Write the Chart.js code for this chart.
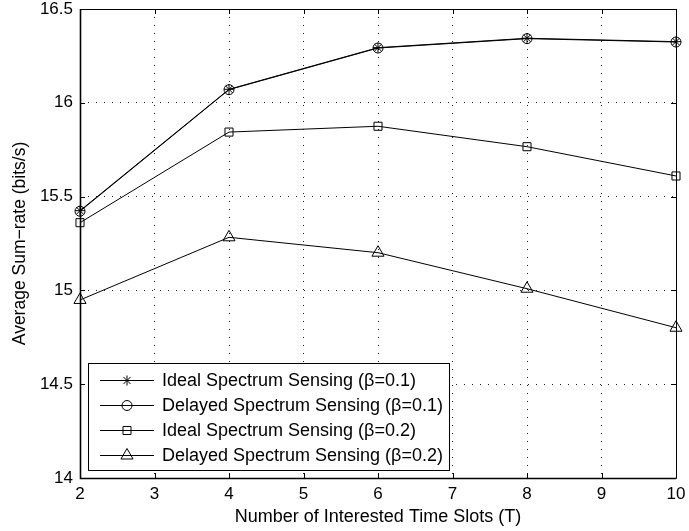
<!DOCTYPE html>
<html>
<head>
<meta charset="utf-8">
<script src="https://cdn.jsdelivr.net/npm/chart.js@4/dist/chart.umd.min.js"></script>
<style>
html,body{margin:0;padding:0;background:#fff;}
#wrap{width:689px;height:531px;}
</style>
</head>
<body>
<div id="wrap"><canvas id="c" width="689" height="531"></canvas></div>
<script>
const slots = [2, 4, 6, 8, 10];
const idealB01 = [15.425, 16.072, 16.294, 16.344, 16.326];
const delayedB01 = [15.422, 16.070, 16.292, 16.342, 16.324];
const idealB02 = [15.361, 15.844, 15.875, 15.766, 15.610];
const delayedB02 = [14.949, 15.283, 15.201, 15.009, 14.801];
const xTicks = [2, 3, 4, 5, 6, 7, 8, 9, 10];
const yTicks = [14, 14.5, 15, 15.5, 16, 16.5];
const seriesNames = ['Ideal Spectrum Sensing (\u03B2=0.1)', 'Delayed Spectrum Sensing (\u03B2=0.1)', 'Ideal Spectrum Sensing (\u03B2=0.2)', 'Delayed Spectrum Sensing (\u03B2=0.2)'];
const xTitle = 'Number of Interested Time Slots (T)';
const yTitle = 'Average Sum\u2212rate (bits/s)';

const FONT = "'Liberation Sans', Arial, Helvetica, sans-serif";
const styles = [
  {pointStyle: 'star', r: 5},
  {pointStyle: 'circle', r: 5},
  {pointStyle: 'rect', r: 5.7},
  {pointStyle: 'triangle', r: 7}
];
const seriesData = [idealB01, delayedB01, idealB02, delayedB02];

function toXY(vals){ return slots.map((x, i) => ({x: x, y: vals[i]})); }

const datasets = seriesData.map((vals, i) => ({
  label: seriesNames[i],
  data: toXY(vals),
  borderColor: '#000',
  borderWidth: 1,
  pointStyle: styles[i].pointStyle,
  pointRadius: styles[i].r,
  pointHoverRadius: styles[i].r,
  pointBorderColor: '#000',
  pointBackgroundColor: 'rgba(0,0,0,0)',
  pointBorderWidth: 1,
  fill: false,
  tension: 0,
  clip: false
}));

function drawMarker(ctx, style, x, y, r){
  ctx.beginPath();
  if (style === 'circle'){
    ctx.arc(x, y, r, 0, Math.PI*2);
  } else if (style === 'rect'){
    const s = Math.SQRT1_2 * r;
    ctx.rect(x - s, y - s, 2*s, 2*s);
  } else if (style === 'triangle'){
    let a = 0;
    ctx.moveTo(x + Math.sin(a)*r, y - Math.cos(a)*r);
    a += 2*Math.PI/3;
    ctx.lineTo(x + Math.sin(a)*r, y - Math.cos(a)*r);
    a += 2*Math.PI/3;
    ctx.lineTo(x + Math.sin(a)*r, y - Math.cos(a)*r);
    ctx.closePath();
  } else if (style === 'star'){
    for (let k = 0; k < 4; k++){
      const a = k*Math.PI/4;
      ctx.moveTo(x - Math.cos(a)*r, y - Math.sin(a)*r);
      ctx.lineTo(x + Math.cos(a)*r, y + Math.sin(a)*r);
    }
  }
  ctx.stroke();
}

const framePlugin = {
  id: 'frame',
  afterDatasetsDraw(chart){
    const ctx = chart.ctx;
    const a = chart.chartArea;
    const xs = chart.scales.x, ys = chart.scales.y;
    ctx.save();
    ctx.strokeStyle = '#000';
    ctx.lineWidth = 1;
    ctx.beginPath();
    xTicks.forEach(v => {
      const px = Math.round(xs.getPixelForValue(v)) + 0.5;
      ctx.moveTo(px, a.bottom); ctx.lineTo(px, a.bottom - 5);
      ctx.moveTo(px, a.top); ctx.lineTo(px, a.top + 5);
    });
    yTicks.forEach(v => {
      const py = Math.round(ys.getPixelForValue(v)) + 0.5;
      ctx.moveTo(a.left, py); ctx.lineTo(a.left + 5, py);
      ctx.moveTo(a.right, py); ctx.lineTo(a.right - 5, py);
    });
    ctx.stroke();
    ctx.beginPath();
    ctx.rect(Math.round(a.left)+0.5, Math.round(a.top)+0.5, Math.round(a.right - a.left), Math.round(a.bottom - a.top));
    ctx.stroke();
    ctx.lineWidth = 1.6;
    ctx.beginPath();
    ctx.moveTo(Math.round(a.left)+0.5, a.top);
    ctx.lineTo(Math.round(a.left)+0.5, Math.round(a.bottom)+0.5);
    ctx.lineTo(a.right, Math.round(a.bottom)+0.5);
    ctx.stroke();

    // legend
    const bx = 88.5, by = 363.5, bw = 361, bh = 107;
    ctx.lineWidth = 1;
    ctx.fillStyle = '#fff';
    ctx.fillRect(bx, by, bw, bh);
    ctx.strokeRect(bx, by, bw, bh);
    ctx.font = '18px ' + FONT;
    ctx.textBaseline = 'middle';
    ctx.textAlign = 'left';
    seriesNames.forEach((name, i) => {
      const y = 380 + i*25 + 0.5;
      ctx.strokeStyle = '#000';
      ctx.lineWidth = 1;
      ctx.beginPath();
      ctx.moveTo(100, y); ctx.lineTo(154, y);
      ctx.stroke();
      drawMarker(ctx, styles[i].pointStyle, 127, y, styles[i].r);
      ctx.fillStyle = '#000';
      ctx.fillText(name, 162, y + 1);
    });
    ctx.restore();
  }
};

new Chart(document.getElementById('c'), {
  type: 'line',
  data: {datasets: datasets},
  plugins: [framePlugin],
  options: {
    responsive: false,
    animation: false,
    devicePixelRatio: 1,
    layout: {padding: {top: 9, right: 13, left: 0, bottom: 0}},
    plugins: {legend: {display: false}, tooltip: {enabled: false}},
    scales: {
      x: {
        type: 'linear', min: 2, max: 10,
        afterBuildTicks: s => { s.ticks = xTicks.map(v => ({value: v})); },
        afterFit: s => { s.height = 53; s.paddingLeft = 0; s.paddingRight = 0; },
        border: {display: false, dash: [1, 7]},
        grid: {color: '#222', lineWidth: 1, drawTicks: false},
        ticks: {color: '#000', font: {family: FONT, size: 17}, padding: 6, maxRotation: 0, autoSkip: false},
        title: {display: true, text: xTitle, color: '#000', font: {family: FONT, size: 18}, padding: {top: 0, bottom: 3}}
      },
      y: {
        type: 'linear', min: 14, max: 16.5,
        afterBuildTicks: s => { s.ticks = yTicks.map(v => ({value: v})); },
        afterFit: s => { s.width = 80; s.paddingTop = 0; s.paddingBottom = 0; },
        border: {display: false, dash: [1, 7]},
        grid: {color: '#222', lineWidth: 1, drawTicks: false},
        ticks: {color: '#000', font: {family: FONT, size: 17}, padding: 7, autoSkip: false, callback: v => String(v)},
        title: {display: true, text: yTitle, color: '#000', font: {family: FONT, size: 17.5}, padding: {top: 10, bottom: 0}}
      }
    }
  }
});
</script>
</body>
</html>
